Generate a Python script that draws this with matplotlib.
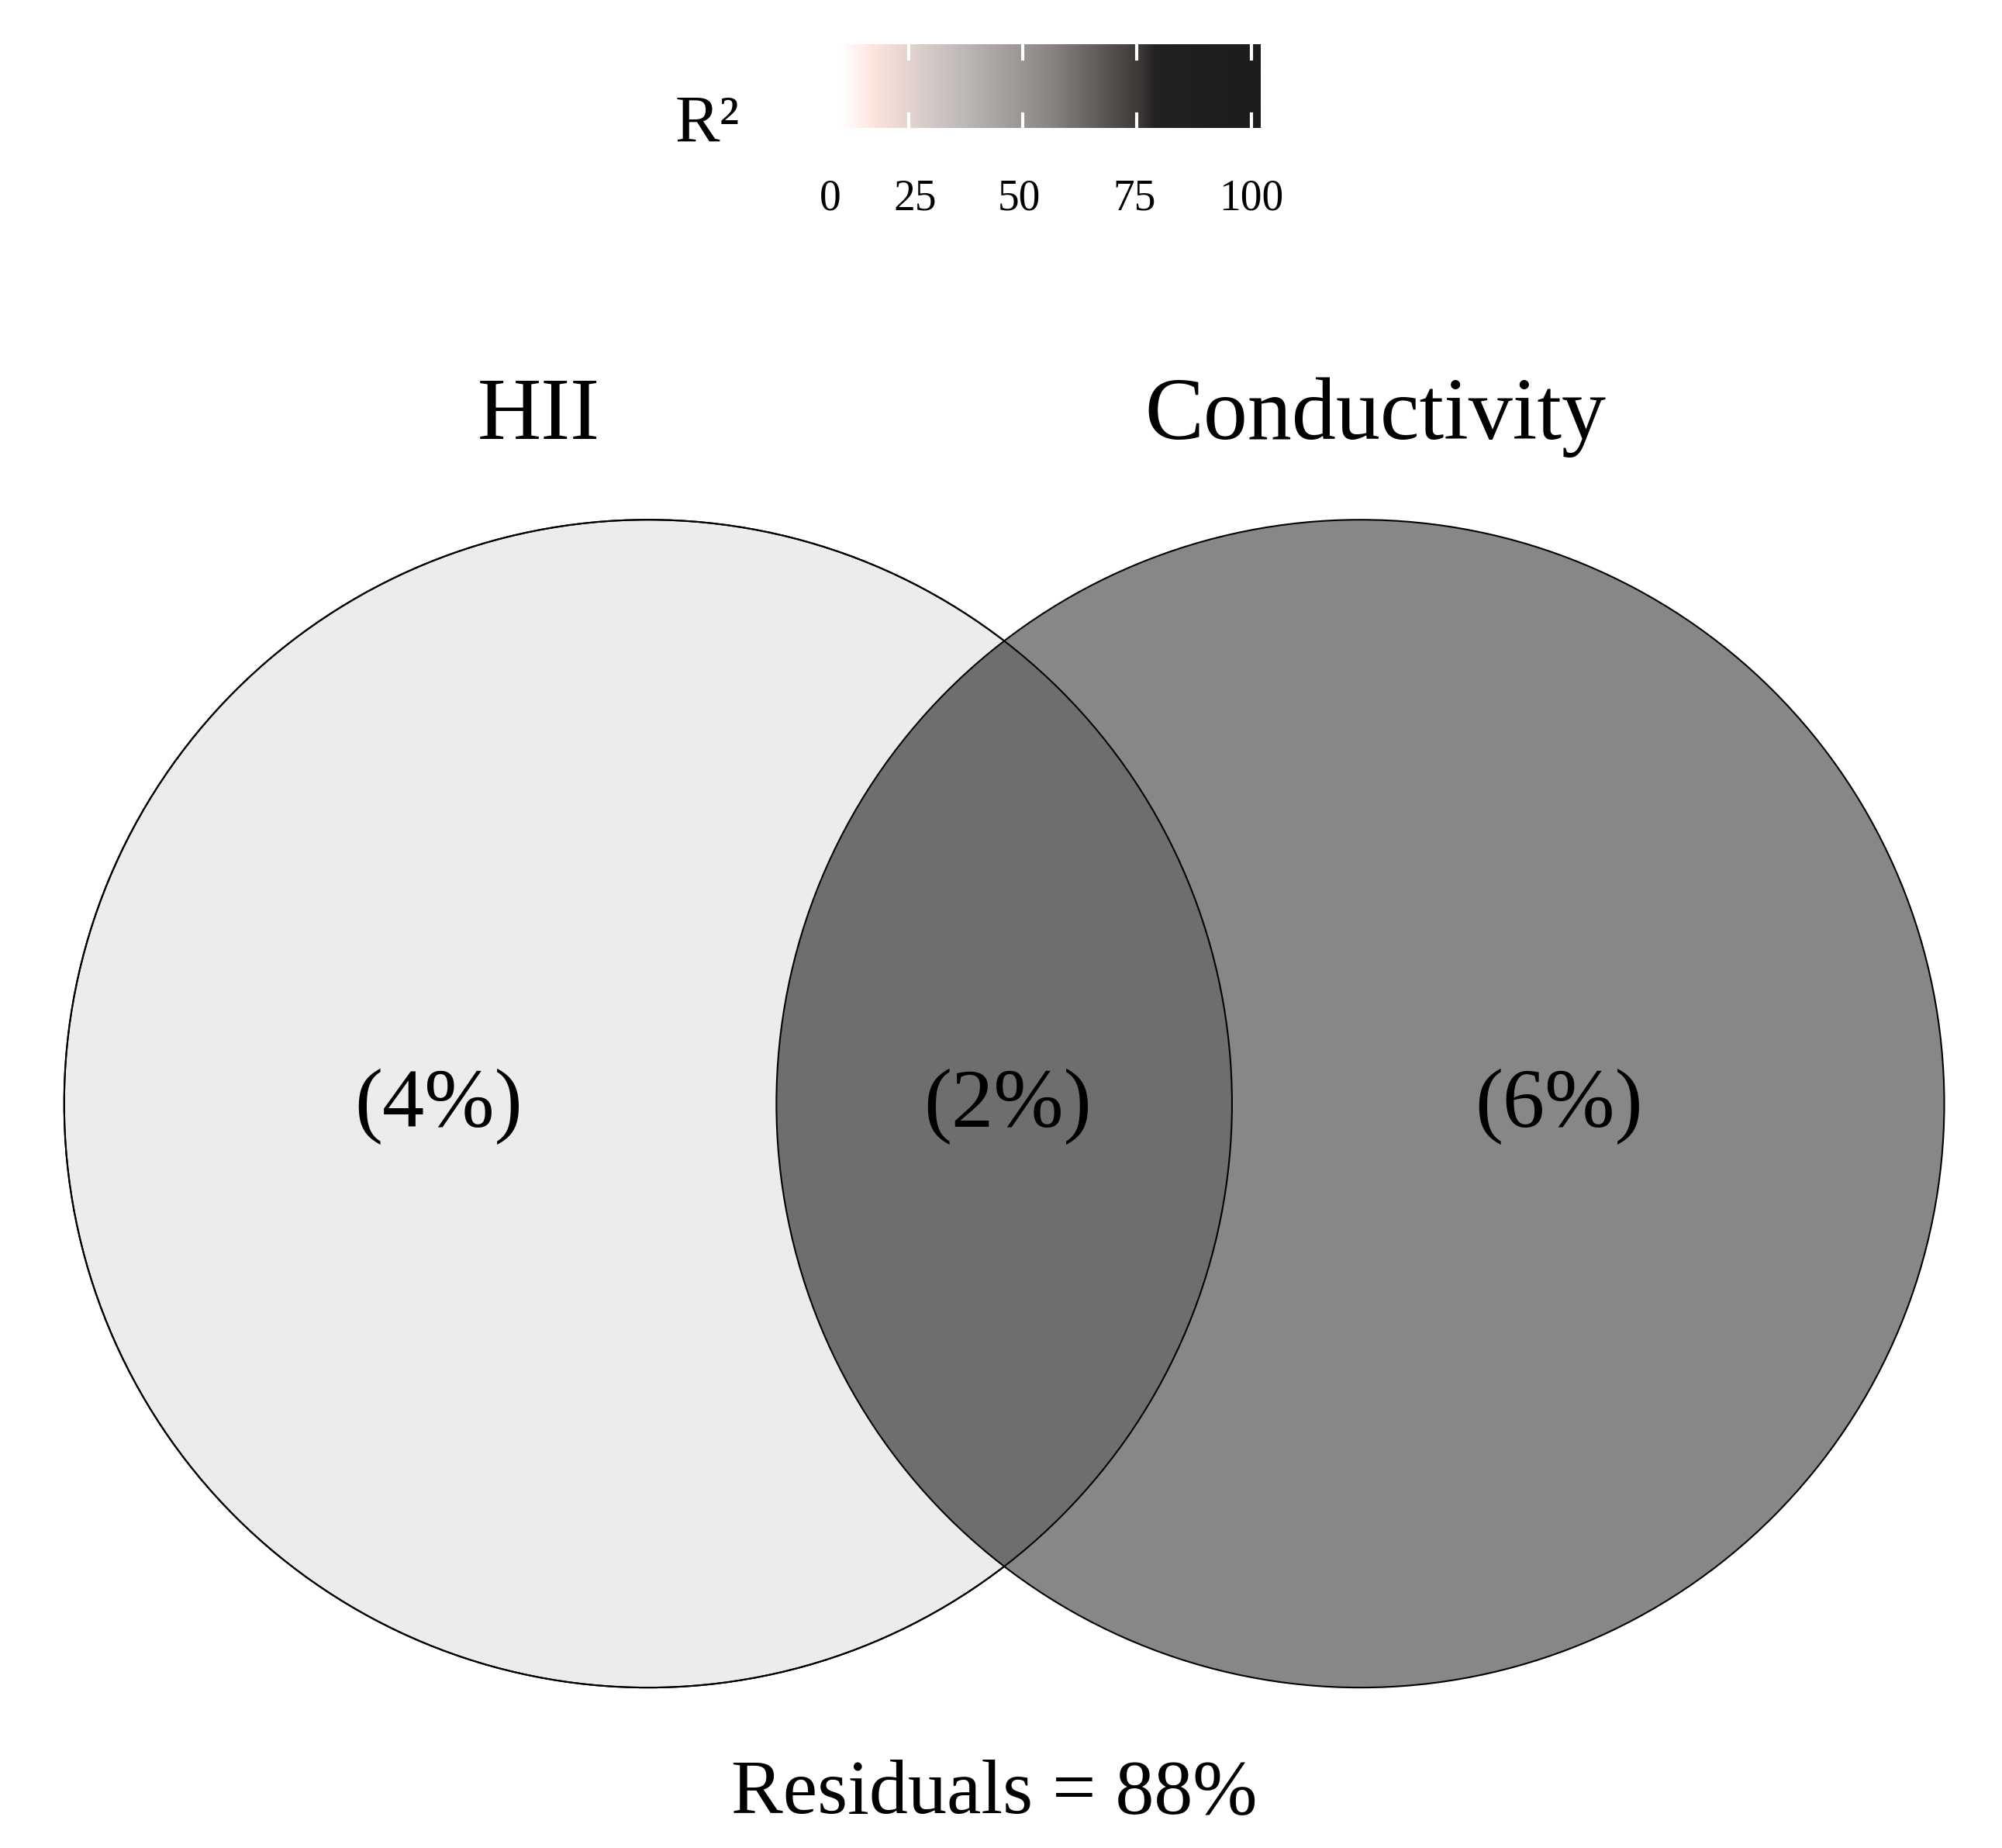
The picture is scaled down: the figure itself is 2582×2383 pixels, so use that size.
import numpy as np
import matplotlib
matplotlib.use('Agg')
import matplotlib.pyplot as plt
import matplotlib.colors as mcolors
from matplotlib.patches import Circle

# --- データ ---
set_names = ["HII", "Conductivity"]
unique_pct = [4, 6]
shared_pct = 2
residual_pct = 88
cbar_ticks = [0, 25, 50, 75, 100]

plt.rcParams['font.family'] = ['Liberation Serif', 'DejaVu Serif']

# 表示座標 (1560 x 1440) で描く
W, H = 1560, 1440
fig = plt.figure(figsize=(25.82, 23.83), dpi=100)
ax = fig.add_axes([0, 0, 1, 1])
ax.set_xlim(0, W)
ax.set_ylim(H, 0)
ax.set_aspect('equal')
ax.axis('off')

r = 455
cl = (505, 860)
cr = (1060, 860)

left = Circle(cl, r, facecolor='#ececec', edgecolor='black', lw=1.5, zorder=1)
right = Circle(cr, r, facecolor='#878787', edgecolor='none', zorder=2)
ax.add_patch(left)
ax.add_patch(right)
# 重なり部分
clip = Circle(cl, r, transform=ax.transData, facecolor='none', edgecolor='none')
ax.add_patch(clip)
ov = Circle(cr, r, facecolor='#6e6e6e', edgecolor='none', zorder=3)
ax.add_patch(ov)
ov.set_clip_path(clip)
# 輪郭
ax.add_patch(Circle(cl, r, facecolor='none', edgecolor='black', lw=1.5, zorder=4))
ax.add_patch(Circle(cr, r, facecolor='none', edgecolor='black', lw=1.5, zorder=4))

ax.text(420, 325, set_names[0], fontsize=82, ha='center', va='center')
ax.text(1072, 325, set_names[1], fontsize=82, ha='center', va='center')

ax.text(342, 862, f"({unique_pct[0]}%)", fontsize=78, ha='center', va='center', zorder=5)
ax.text(785, 862, f"({shared_pct}%)", fontsize=78, ha='center', va='center', zorder=5)
ax.text(1215, 862, f"({unique_pct[1]}%)", fontsize=78, ha='center', va='center', zorder=5)

ax.text(775, 1398, f"Residuals = {residual_pct}%", fontsize=72, ha='center', va='center')

# --- カラーバー ---
cmap = mcolors.LinearSegmentedColormap.from_list(
    "r2", [(0, '#ffffff'), (0.08, '#fde3dc'), (0.25, '#c8c2c0'),
           (0.5, '#8a8482'), (0.72, '#3a3433'), (0.75, '#222222'), (1, '#1c1c1c')])
x0, x1 = 655, 982
grad = np.linspace(0, 100, 400).reshape(1, -1)
ax.imshow(grad, cmap=cmap, extent=(x0, x1, 100, 35), aspect='auto', zorder=2)
for t in cbar_ticks[1:]:
    tx = 708 + (t - 25) / 75 * (975 - 708)
    ax.plot([tx, tx], [35, 46], color='white', lw=3, zorder=3)
    ax.plot([tx, tx], [89, 100], color='white', lw=3, zorder=3)
for t in cbar_ticks:
    tx = {0: 647, 25: 713, 50: 794, 75: 884, 100: 975}[t]
    ax.text(tx, 155, str(t), fontsize=40, ha='center', va='center')
ax.text(551, 98, "R²", fontsize=62, ha='center', va='center')

fig.savefig("out.png", dpi=100)
plt.close(fig)
